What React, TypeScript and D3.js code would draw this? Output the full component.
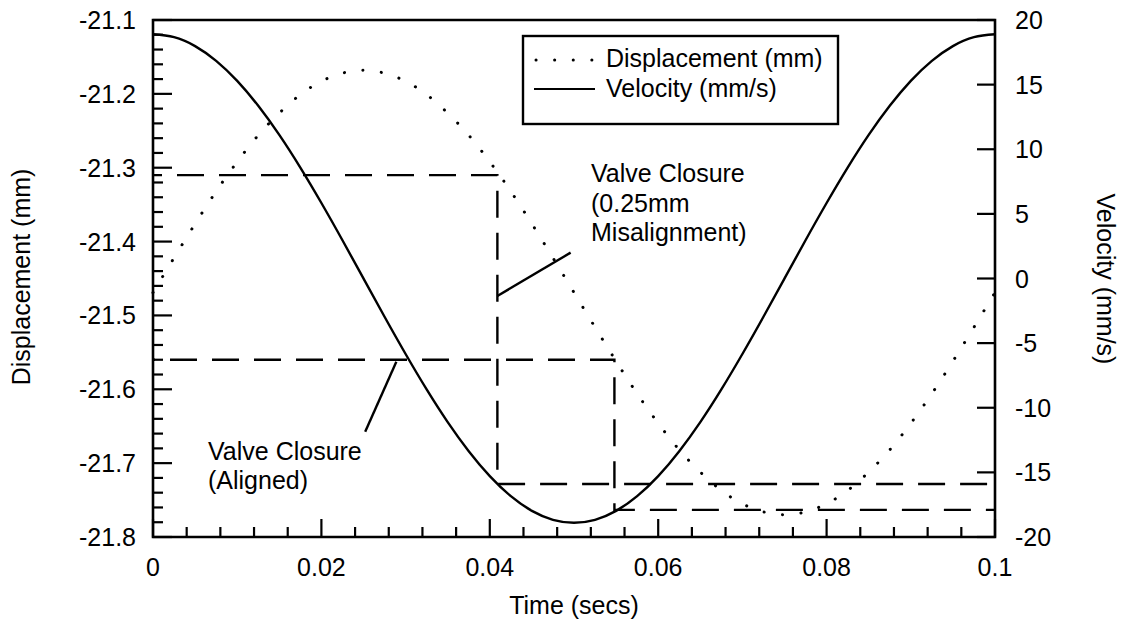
import React from "react";
import * as d3 from "d3";

// Time samples (s)
const times = [
  0, 0.0025, 0.005, 0.0075, 0.01, 0.0125, 0.015, 0.0175, 0.02, 0.0225, 0.025,
  0.0275, 0.03, 0.0325, 0.035, 0.0375, 0.04, 0.0425, 0.045, 0.0475, 0.05,
  0.0525, 0.055, 0.0575, 0.06, 0.0625, 0.065, 0.0675, 0.07, 0.0725, 0.075,
  0.0775, 0.08, 0.0825, 0.085, 0.0875, 0.09, 0.0925, 0.095, 0.0975, 0.1,
];
// Displacement (mm), dotted series, left axis
const displacement = [
  -21.469, -21.422, -21.376, -21.332, -21.292, -21.256, -21.226, -21.201, -21.183, -21.172, -21.168,
  -21.172, -21.183, -21.201, -21.226, -21.256, -21.292, -21.332, -21.376, -21.422, -21.469,
  -21.516, -21.562, -21.606, -21.646, -21.682, -21.712, -21.737, -21.755, -21.766, -21.77,
  -21.766, -21.755, -21.737, -21.712, -21.682, -21.646, -21.606, -21.562, -21.516, -21.469,
];
// Velocity (mm/s), solid series, right axis
const velocity = [
  18.9, 18.67, 17.98, 16.84, 15.29, 13.36, 11.11, 8.58, 5.84, 2.96, 0,
  -2.96, -5.84, -8.58, -11.11, -13.36, -15.29, -16.84, -17.98, -18.67, -18.9,
  -18.67, -17.98, -16.84, -15.29, -13.36, -11.11, -8.58, -5.84, -2.96, 0,
  2.96, 5.84, 8.58, 11.11, 13.36, 15.29, 16.84, 17.98, 18.67, 18.9,
];

// Valve closure guides
const closureTimes = [0.0409, 0.0548];
const closureDisp = [-21.31, -21.56];
const closureVel = [-15.9, -17.9];

// Tick labels
const xTicks = [0, 0.02, 0.04, 0.06, 0.08, 0.1];
const xTickLabels = ["0", "0.02", "0.04", "0.06", "0.08", "0.1"];
const leftTicks = [-21.1, -21.2, -21.3, -21.4, -21.5, -21.6, -21.7, -21.8];
const rightTicks = [20, 15, 10, 5, 0, -5, -10, -15, -20];

// Annotation leaders (time, velocity)
const leaderMis = [[0.0409, -1.35], [0.0496, 2.0]];
const leaderAligned = [[0.0252, -11.85], [0.0289, -6.44]];
const noteMis = ["Valve Closure", "(0.25mm", "Misalignment)"];
const noteAligned = ["Valve Closure", "(Aligned)"];

const W = 1127;
const H = 632;
const FONT = "'Liberation Sans', Arial, Helvetica, sans-serif";

export default function App() {
  const x = d3.scaleLinear().domain([0, 0.1]).range([153, 995]);
  const yL = d3.scaleLinear().domain([-21.8, -21.1]).range([537, 20]);
  const yR = d3.scaleLinear().domain([-20, 20]).range([537, 20]);

  const dispLine = d3
    .line<number>()
    .x((_, i) => x(times[i]))
    .y((d) => yL(d))
    .curve(d3.curveNatural)(displacement) as string;
  const velLine = d3
    .line<number>()
    .x((_, i) => x(times[i]))
    .y((d) => yR(d))
    .curve(d3.curveNatural)(velocity) as string;

  const guidePaths = closureTimes.map((t, i) => {
    const p = d3.path();
    p.moveTo(x(0), yL(closureDisp[i]));
    p.lineTo(x(t), yL(closureDisp[i]));
    p.lineTo(x(t), yR(closureVel[i]));
    p.lineTo(x(0.1), yR(closureVel[i]));
    return p.toString();
  });

  const minorX = d3.range(0, 0.1001, 0.004).filter((v) => Math.abs(Math.round(v / 0.02) * 0.02 - v) > 1e-6);
  const minorL = d3.range(-21.8, -21.099, 0.02).filter((v) => Math.abs(Math.round(v / 0.1) * 0.1 - v) > 1e-6);

  const sw = 2.4;
  const x0 = x(0), x1 = x(0.1), yTop = yL(-21.1), yBot = yL(-21.8);

  return (
    <svg width={W} height={H} style={{ position: "absolute", left: 0, top: 0, background: "#fff" }} fontFamily={FONT}>
      <rect x={0} y={0} width={W} height={H} fill="#fff" />
      {/* frame */}
      <path d={`M${x0},${yTop}H${x1}V${yBot}H${x0}Z`} fill="none" stroke="#000" strokeWidth={2.6} />
      {/* bottom ticks */}
      {xTicks.map((t) => (
        <line key={"xm" + t} x1={x(t)} x2={x(t)} y1={yBot} y2={yBot - 18} stroke="#000" strokeWidth={2.2} />
      ))}
      {minorX.map((t) => (
        <line key={"xn" + t} x1={x(t)} x2={x(t)} y1={yBot} y2={yBot - 10} stroke="#000" strokeWidth={2.2} />
      ))}
      {/* left ticks */}
      {leftTicks.map((v) => (
        <line key={"lm" + v} x1={x0} x2={x0 + 19} y1={yL(v)} y2={yL(v)} stroke="#000" strokeWidth={2.2} />
      ))}
      {minorL.map((v) => (
        <line key={"ln" + v} x1={x0} x2={x0 + 10} y1={yL(v)} y2={yL(v)} stroke="#000" strokeWidth={2.2} />
      ))}
      {/* right ticks */}
      {rightTicks.map((v) => (
        <line key={"r" + v} x1={x1} x2={x1 - 18} y1={yR(v)} y2={yR(v)} stroke="#000" strokeWidth={2.2} />
      ))}
      {/* tick labels */}
      {xTicks.map((t, i) => (
        <text key={"xt" + t} x={x(t)} y={576} textAnchor="middle" fontSize={25}>
          {xTickLabels[i]}
        </text>
      ))}
      {leftTicks.map((v) => (
        <text key={"lt" + v} x={136} y={yL(v)} dy="0.36em" textAnchor="end" fontSize={25}>
          {v.toFixed(1)}
        </text>
      ))}
      {rightTicks.map((v) => (
        <text key={"rt" + v} x={1015} y={yR(v)} dy="0.36em" textAnchor="start" fontSize={25}>
          {String(v)}
        </text>
      ))}
      {/* axis titles */}
      <text x={574} y={614} textAnchor="middle" fontSize={25}>Time (secs)</text>
      <text transform="translate(30,277) rotate(-90)" textAnchor="middle" fontSize={25}>Displacement (mm)</text>
      <text transform="translate(1097,279) rotate(90)" textAnchor="middle" fontSize={25}>Velocity (mm/s)</text>

      {/* guides */}
      {guidePaths.map((d, i) => (
        <path key={"g" + i} d={d} fill="none" stroke="#000" strokeWidth={sw} strokeDasharray="27 15" strokeDashoffset={i === 0 ? 18 : 25} />
      ))}

      {/* series */}
      <path d={dispLine} fill="none" stroke="#000" strokeWidth={3} strokeLinecap="round" strokeDasharray="0.1 18.5" />
      <path d={velLine} fill="none" stroke="#000" strokeWidth={2.4} />

      {/* annotation leaders */}
      <line x1={x(leaderMis[0][0])} y1={yR(leaderMis[0][1])} x2={x(leaderMis[1][0])} y2={yR(leaderMis[1][1])} stroke="#000" strokeWidth={2.4} />
      <line x1={x(leaderAligned[0][0])} y1={yR(leaderAligned[0][1])} x2={x(leaderAligned[1][0])} y2={yR(leaderAligned[1][1])} stroke="#000" strokeWidth={2.4} />
      {noteMis.map((s, i) => (
        <text key={"nm" + i} x={591} y={182 + i * 29.5} fontSize={25}>{s}</text>
      ))}
      {noteAligned.map((s, i) => (
        <text key={"na" + i} x={208} y={460 + i * 28.5} fontSize={25}>{s}</text>
      ))}

      {/* legend */}
      <rect x={523} y={36} width={315} height={88} fill="#fff" stroke="#000" strokeWidth={2.4} />
      <line x1={536} x2={596} y1={60} y2={60} stroke="#000" strokeWidth={3} strokeLinecap="round" strokeDasharray="0.1 18.5" />
      <line x1={534} x2={595} y1={89} y2={89} stroke="#000" strokeWidth={2.2} />
      <text x={606} y={67} fontSize={25}>Displacement (mm)</text>
      <text x={606} y={97} fontSize={25}>Velocity (mm/s)</text>
    </svg>
  );
}
